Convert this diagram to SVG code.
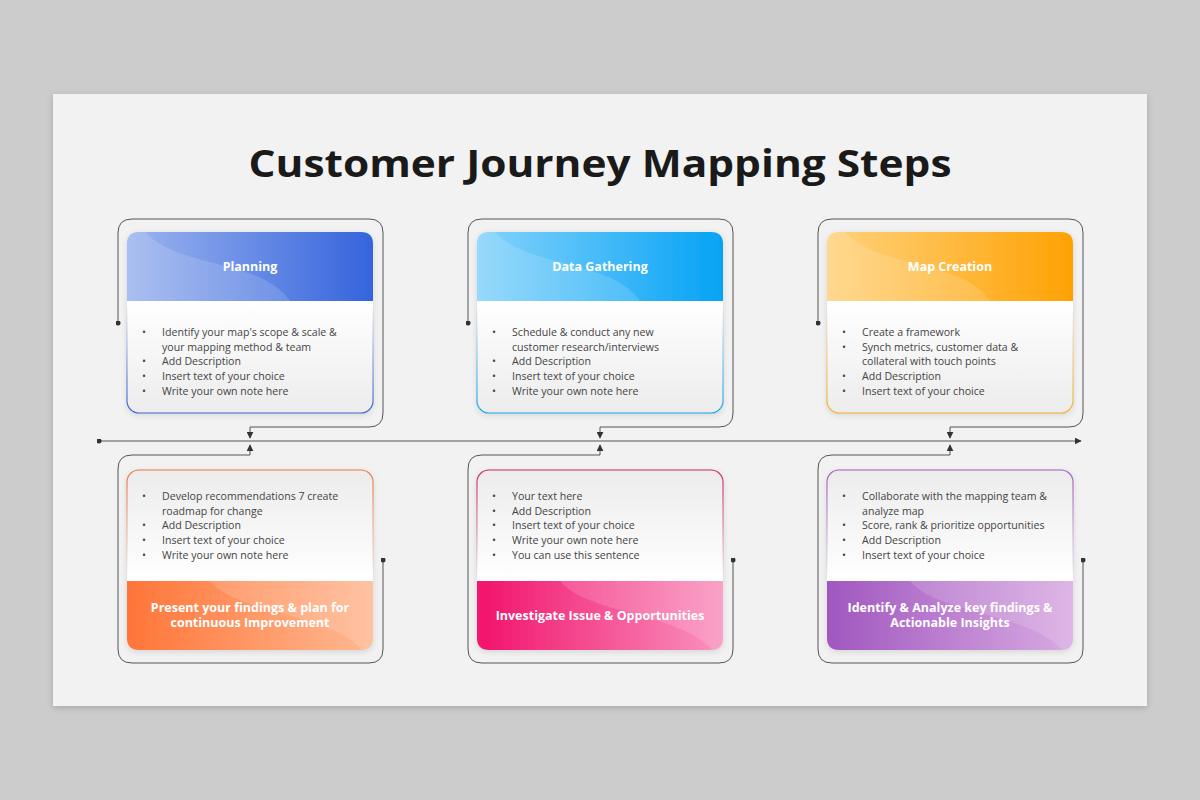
<svg xmlns="http://www.w3.org/2000/svg" width="1200" height="800" viewBox="0 0 1200 800">
<defs>
<style>
.title{font-family:"Open Sans","Liberation Sans",sans-serif;font-weight:700;font-size:38px;fill:#1a1a1a}
.hd{font-family:"Open Sans","Liberation Sans",sans-serif;font-weight:700;font-size:12.5px;fill:#fff}
.tx{font-family:"Open Sans","Liberation Sans",sans-serif;font-size:10.6px;fill:#444}
.conn{fill:none;stroke:#555;stroke-width:1}
.wave{fill:#fff;opacity:0.14}
</style>
<filter id="sh" x="-10%" y="-10%" width="120%" height="130%">
<feDropShadow dx="0" dy="2" stdDeviation="3" flood-color="#000" flood-opacity="0.12"/>
</filter>
<filter id="slsh" x="-5%" y="-5%" width="110%" height="115%">
<feDropShadow dx="0" dy="2" stdDeviation="3" flood-color="#000" flood-opacity="0.18"/>
</filter>
<marker id="arr" viewBox="0 0 10 10" refX="9" refY="5" markerWidth="7" markerHeight="7" orient="auto" markerUnits="userSpaceOnUse">
<path d="M0,0 L10,5 L0,10 Z" fill="#333"/>
</marker>
<marker id="dot" viewBox="0 0 10 10" refX="5" refY="5" markerWidth="5" markerHeight="5" markerUnits="userSpaceOnUse">
<circle cx="5" cy="5" r="5" fill="#333"/>
</marker>
<linearGradient id="gBlue" x1="0" y1="0" x2="1" y2="0"><stop offset="0" stop-color="#9db5ef"/><stop offset="1" stop-color="#3464dc"/></linearGradient>
<linearGradient id="gCyan" x1="0" y1="0" x2="1" y2="0"><stop offset="0" stop-color="#86d3fb"/><stop offset="1" stop-color="#05a3f5"/></linearGradient>
<linearGradient id="gOrange" x1="0" y1="0" x2="1" y2="0"><stop offset="0" stop-color="#ffd27e"/><stop offset="1" stop-color="#ffa203"/></linearGradient>
<linearGradient id="gRed" x1="0" y1="0" x2="1" y2="0"><stop offset="0" stop-color="#ff7538"/><stop offset="1" stop-color="#ffb993"/></linearGradient>
<linearGradient id="gPink" x1="0" y1="0" x2="1" y2="0"><stop offset="0" stop-color="#f2126c"/><stop offset="1" stop-color="#f993be"/></linearGradient>
<linearGradient id="gPurple" x1="0" y1="0" x2="1" y2="0"><stop offset="0" stop-color="#a057bf"/><stop offset="1" stop-color="#d9aae2"/></linearGradient>
<linearGradient id="bodyTop" x1="0" y1="0" x2="0" y2="1"><stop offset="0" stop-color="#ffffff"/><stop offset="1" stop-color="#ececec"/></linearGradient>
<linearGradient id="bodyBot" x1="0" y1="0" x2="0" y2="1"><stop offset="0" stop-color="#ececec"/><stop offset="1" stop-color="#ffffff"/></linearGradient>
<linearGradient id="bBlue" x1="0" y1="0" x2="0" y2="1"><stop offset="0.4" stop-color="#3a66d6" stop-opacity="0"/><stop offset="1" stop-color="#3a66d6"/></linearGradient>
<linearGradient id="bCyan" x1="0" y1="0" x2="0" y2="1"><stop offset="0.4" stop-color="#1aa6ee" stop-opacity="0"/><stop offset="1" stop-color="#1aa6ee"/></linearGradient>
<linearGradient id="bOrange" x1="0" y1="0" x2="0" y2="1"><stop offset="0.4" stop-color="#f5b030" stop-opacity="0"/><stop offset="1" stop-color="#f5b030"/></linearGradient>
<linearGradient id="bRed" x1="0" y1="0" x2="0" y2="1"><stop offset="0" stop-color="#ee7a45"/><stop offset="0.6" stop-color="#ee7a45" stop-opacity="0"/></linearGradient>
<linearGradient id="bPink" x1="0" y1="0" x2="0" y2="1"><stop offset="0" stop-color="#d0266f"/><stop offset="0.6" stop-color="#d0266f" stop-opacity="0"/></linearGradient>
<linearGradient id="bPurple" x1="0" y1="0" x2="0" y2="1"><stop offset="0" stop-color="#a45cbf"/><stop offset="0.6" stop-color="#a45cbf" stop-opacity="0"/></linearGradient>
</defs>

<rect x="0" y="0" width="1200" height="800" fill="#cccccc"/>
<rect x="53" y="94" width="1094" height="612" fill="#f2f2f2" filter="url(#slsh)"/>

<text class="title" x="600" y="177" text-anchor="middle" textLength="703" lengthAdjust="spacingAndGlyphs">Customer Journey Mapping Steps</text>

<g id="connectors">
<path class="conn" d="M99,441 H1081" marker-start="url(#dot)" marker-end="url(#arr)"/>
<path class="conn" d="M118,323 V233 Q118,219 132,219 H369 Q383,219 383,233 V413 Q383,427 369,427 H250 V438" marker-start="url(#dot)" marker-end="url(#arr)"/>
<path class="conn" d="M468,323 V233 Q468,219 482,219 H719 Q733,219 733,233 V413 Q733,427 719,427 H600 V438" marker-start="url(#dot)" marker-end="url(#arr)"/>
<path class="conn" d="M818,323 V233 Q818,219 832,219 H1069 Q1083,219 1083,233 V413 Q1083,427 1069,427 H950 V438" marker-start="url(#dot)" marker-end="url(#arr)"/>
<path class="conn" d="M383,560 V649 Q383,663 369,663 H132 Q118,663 118,649 V469 Q118,455 132,455 H250 V445" marker-start="url(#dot)" marker-end="url(#arr)"/>
<path class="conn" d="M733,560 V649 Q733,663 719,663 H482 Q468,663 468,649 V469 Q468,455 482,455 H600 V445" marker-start="url(#dot)" marker-end="url(#arr)"/>
<path class="conn" d="M1083,560 V649 Q1083,663 1069,663 H832 Q818,663 818,649 V469 Q818,455 832,455 H950 V445" marker-start="url(#dot)" marker-end="url(#arr)"/>
</g>

<g id="planning">
<g filter="url(#sh)">
<path d="M127,301 H373 V401 Q373,413 361,413 H139 Q127,413 127,401 Z" fill="url(#bodyTop)"/>
<path d="M127,301 V244 Q127,232 139,232 H361 Q373,232 373,244 V301 Z" fill="url(#gBlue)"/>
</g>
<path class="wave" d="M139,232 H145 C170,260 230,262 265,280 C280,288 287,296 290,301 H127 V244 Q127,232 139,232 Z"/>
<rect x="127" y="232" width="246" height="181" rx="12" fill="none" stroke="url(#bBlue)" stroke-width="1.2"/>
<text class="hd" x="250" y="271" text-anchor="middle">Planning</text>
<g class="tx">
<text x="142" y="336">•</text><text x="162" y="336">Identify your map's scope &amp; scale &amp;</text>
<text x="162" y="351">your mapping method &amp; team</text>
<text x="142" y="365">•</text><text x="162" y="365">Add Description</text>
<text x="142" y="380">•</text><text x="162" y="380">Insert text of your choice</text>
<text x="142" y="395">•</text><text x="162" y="395">Write your own note here</text>
</g>
</g>

<g id="data-gathering">
<g filter="url(#sh)">
<path d="M477,301 H723 V401 Q723,413 711,413 H489 Q477,413 477,401 Z" fill="url(#bodyTop)"/>
<path d="M477,301 V244 Q477,232 489,232 H711 Q723,232 723,244 V301 Z" fill="url(#gCyan)"/>
</g>
<path class="wave" d="M489,232 H495 C520,260 580,262 615,280 C630,288 637,296 640,301 H477 V244 Q477,232 489,232 Z"/>
<rect x="477" y="232" width="246" height="181" rx="12" fill="none" stroke="url(#bCyan)" stroke-width="1.2"/>
<text class="hd" x="600" y="271" text-anchor="middle">Data Gathering</text>
<g class="tx">
<text x="492" y="336">•</text><text x="512" y="336">Schedule &amp; conduct any new</text>
<text x="512" y="351">customer research/interviews</text>
<text x="492" y="365">•</text><text x="512" y="365">Add Description</text>
<text x="492" y="380">•</text><text x="512" y="380">Insert text of your choice</text>
<text x="492" y="395">•</text><text x="512" y="395">Write your own note here</text>
</g>
</g>

<g id="map-creation">
<g filter="url(#sh)">
<path d="M827,301 H1073 V401 Q1073,413 1061,413 H839 Q827,413 827,401 Z" fill="url(#bodyTop)"/>
<path d="M827,301 V244 Q827,232 839,232 H1061 Q1073,232 1073,244 V301 Z" fill="url(#gOrange)"/>
</g>
<path class="wave" d="M839,232 H845 C870,260 930,262 965,280 C980,288 987,296 990,301 H827 V244 Q827,232 839,232 Z"/>
<rect x="827" y="232" width="246" height="181" rx="12" fill="none" stroke="url(#bOrange)" stroke-width="1.2"/>
<text class="hd" x="950" y="271" text-anchor="middle">Map Creation</text>
<g class="tx">
<text x="842" y="336">•</text><text x="862" y="336">Create a framework</text>
<text x="842" y="351">•</text><text x="862" y="351">Synch metrics, customer data &amp;</text>
<text x="862" y="365">collateral with touch points</text>
<text x="842" y="380">•</text><text x="862" y="380">Add Description</text>
<text x="842" y="395">•</text><text x="862" y="395">Insert text of your choice</text>
</g>
</g>

<g id="present-findings">
<g filter="url(#sh)">
<path d="M127,581 V482 Q127,470 139,470 H361 Q373,470 373,482 V581 Z" fill="url(#bodyBot)"/>
<path d="M127,581 H373 V638 Q373,650 361,650 H139 Q127,650 127,638 Z" fill="url(#gRed)"/>
</g>
<path class="wave" d="M210,581 C230,605 280,610 320,625 C345,634 355,642 362,650 H361 Q373,650 373,638 V581 Z"/>
<rect x="127" y="470" width="246" height="180" rx="12" fill="none" stroke="url(#bRed)" stroke-width="1.2"/>
<text class="hd" x="250" y="612" text-anchor="middle">Present your findings &amp; plan for</text>
<text class="hd" x="250" y="627" text-anchor="middle">continuous Improvement</text>
<g class="tx">
<text x="142" y="500">•</text><text x="162" y="500">Develop recommendations 7 create</text>
<text x="162" y="515">roadmap for change</text>
<text x="142" y="529">•</text><text x="162" y="529">Add Description</text>
<text x="142" y="544">•</text><text x="162" y="544">Insert text of your choice</text>
<text x="142" y="559">•</text><text x="162" y="559">Write your own note here</text>
</g>
</g>

<g id="investigate">
<g filter="url(#sh)">
<path d="M477,581 V482 Q477,470 489,470 H711 Q723,470 723,482 V581 Z" fill="url(#bodyBot)"/>
<path d="M477,581 H723 V638 Q723,650 711,650 H489 Q477,650 477,638 Z" fill="url(#gPink)"/>
</g>
<path class="wave" d="M560,581 C580,605 630,610 670,625 C695,634 705,642 712,650 H711 Q723,650 723,638 V581 Z"/>
<rect x="477" y="470" width="246" height="180" rx="12" fill="none" stroke="url(#bPink)" stroke-width="1.2"/>
<text class="hd" x="600" y="620" text-anchor="middle">Investigate Issue &amp; Opportunities</text>
<g class="tx">
<text x="492" y="500">•</text><text x="512" y="500">Your text here</text>
<text x="492" y="515">•</text><text x="512" y="515">Add Description</text>
<text x="492" y="529">•</text><text x="512" y="529">Insert text of your choice</text>
<text x="492" y="544">•</text><text x="512" y="544">Write your own note here</text>
<text x="492" y="559">•</text><text x="512" y="559">You can use this sentence</text>
</g>
</g>

<g id="identify-analyze">
<g filter="url(#sh)">
<path d="M827,581 V482 Q827,470 839,470 H1061 Q1073,470 1073,482 V581 Z" fill="url(#bodyBot)"/>
<path d="M827,581 H1073 V638 Q1073,650 1061,650 H839 Q827,650 827,638 Z" fill="url(#gPurple)"/>
</g>
<path class="wave" d="M910,581 C930,605 980,610 1020,625 C1045,634 1055,642 1062,650 H1061 Q1073,650 1073,638 V581 Z"/>
<rect x="827" y="470" width="246" height="180" rx="12" fill="none" stroke="url(#bPurple)" stroke-width="1.2"/>
<text class="hd" x="950" y="612" text-anchor="middle">Identify &amp; Analyze key findings &amp;</text>
<text class="hd" x="950" y="627" text-anchor="middle">Actionable Insights</text>
<g class="tx">
<text x="842" y="500">•</text><text x="862" y="500">Collaborate with the mapping team &amp;</text>
<text x="862" y="515">analyze map</text>
<text x="842" y="529">•</text><text x="862" y="529">Score, rank &amp; prioritize opportunities</text>
<text x="842" y="544">•</text><text x="862" y="544">Add Description</text>
<text x="842" y="559">•</text><text x="862" y="559">Insert text of your choice</text>
</g>
</g>
</svg>
